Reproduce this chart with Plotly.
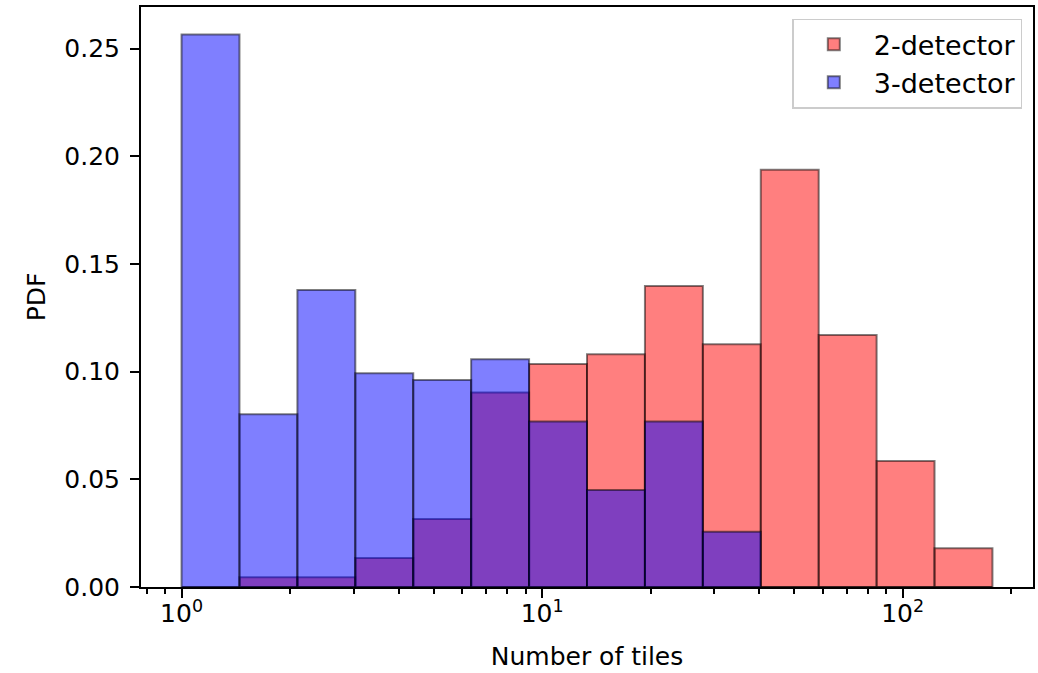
import numpy as np
import plotly.graph_objects as go

# Histogram bin edges (log-spaced, number of tiles)
bin_edges = [1.0, 1.4476, 2.0956, 3.0336, 4.3914, 6.3570, 9.2024, 13.321,
             19.284, 27.915, 40.410, 58.497, 84.680, 122.58, 177.45]

# Density values per bin (PDF)
pdf_2det = [0.0, 0.0045, 0.0045, 0.0135, 0.0316, 0.0903, 0.1036, 0.1081,
            0.1398, 0.1127, 0.1937, 0.1170, 0.0585, 0.0180]
pdf_3det = [0.2565, 0.0802, 0.1379, 0.0993, 0.0961, 0.1058, 0.0768, 0.0451,
            0.0768, 0.0257, 0.0, 0.0, 0.0, 0.0]

series_names = ["2-detector", "3-detector"]

y_ticks = [0.00, 0.05, 0.10, 0.15, 0.20, 0.25]
x_major = [1, 10, 100]
x_major_labels = ["10<sup>0</sup>", "10<sup>1</sup>", "10<sup>2</sup>"]
x_minor = [0.8, 0.9, 2, 3, 4, 5, 6, 7, 8, 9, 20, 30, 40, 50, 60, 70, 80, 90, 200]

le = np.log10(bin_edges)
centers = (le[:-1] + le[1:]) / 2
widths = le[1:] - le[:-1]

FONT = "DejaVu Sans"
FS = 25

fig = go.Figure()
fig.add_trace(go.Bar(
    x=centers, y=pdf_2det, width=widths, name=series_names[0],
    marker=dict(color="rgba(255,0,0,0.5)", line=dict(color="rgba(0,0,0,0.5)", width=2)),
))
fig.add_trace(go.Bar(
    x=centers, y=pdf_3det, width=widths, name=series_names[1],
    marker=dict(color="rgba(0,0,255,0.5)", line=dict(color="rgba(0,0,0,0.5)", width=2)),
))

lo = 0.0
hi = le[-1]
span = hi - lo
fig.update_layout(
    barmode="overlay",
    width=1038, height=673,
    margin=dict(l=141, r=5, t=7, b=86, autoexpand=False),
    paper_bgcolor="white", plot_bgcolor="white",
    font=dict(family=FONT, size=FS, color="black"),
    showlegend=True,
    legend=dict(
        x=0.988, y=0.98, xanchor="right", yanchor="top",
        bgcolor="rgba(255,255,255,0.8)", bordercolor="#cccccc", borderwidth=1.5,
        font=dict(family=FONT, size=27), itemwidth=70, tracegroupgap=4,
    ),
    xaxis=dict(
        range=[lo - 0.05 * span, hi + 0.05 * span],
        tickmode="array", tickvals=list(np.log10(x_major)), ticktext=x_major_labels,
        ticks="outside", ticklen=9, tickwidth=2, tickcolor="black",
        ticklabelstandoff=-6,
        minor=dict(tickmode="array", tickvals=list(np.log10(x_minor)), ticks="outside",
                   ticklen=5, tickwidth=1.5, tickcolor="black", showgrid=False),
        showline=True, linecolor="black", linewidth=2, mirror=True,
        showgrid=False, zeroline=False, automargin=False,
        title=dict(text="Number of tiles", font=dict(family=FONT, size=FS), standoff=20),
    ),
    yaxis=dict(
        range=[0, max(pdf_3det) * 1.05],
        tickmode="array", tickvals=y_ticks, ticktext=[f"{v:.2f}" for v in y_ticks],
        ticks="outside", ticklen=9, tickwidth=2, tickcolor="black",
        ticklabelstandoff=5,
        showline=True, linecolor="black", linewidth=2, mirror=True,
        showgrid=False, zeroline=False, automargin=False,
        title=dict(text="PDF", font=dict(family=FONT, size=FS), standoff=12),
    ),
)

fig.write_html("out.html", config={"displayModeBar": False},
               post_script="document.body.style.margin='0';document.body.style.padding='0';")
